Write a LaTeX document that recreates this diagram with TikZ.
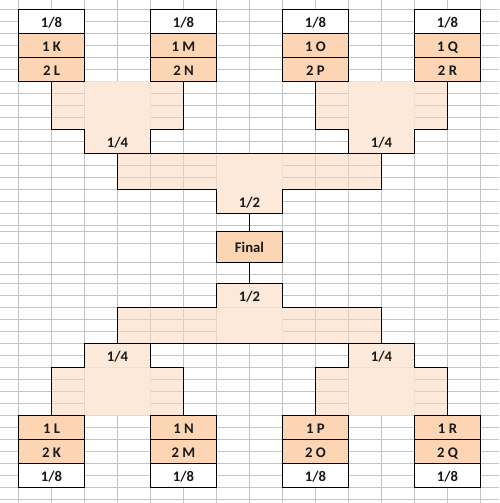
\documentclass[tikz,border=0pt]{standalone}
\usepackage{fontspec}
\setmainfont{Carlito}
\usetikzlibrary{positioning,backgrounds}
\definecolor{bkTeam}  {HTML}{FCD5B4}
\definecolor{bkPale}  {HTML}{FDE9D9}
\definecolor{bkGrid}  {HTML}{C4C4C4}
\definecolor{bkGridIn}{HTML}{DCCDC2}
\definecolor{bkInk}   {HTML}{1A1A1A}
\newcommand{\sheetgrid}[1]{%
  \foreach \gx in {18.5,51.5,...,480.5} \draw[#1] (\gx,0) -- (\gx,503);
  \foreach \gy in {9.3,21.3,...,225.3} \draw[#1] (0,\gy) -- (499,\gy);
  \foreach \gy in {231,243.3,262.3,274.3} \draw[#1] (0,\gy) -- (499,\gy);
  \foreach \gy in {283.3,295.3,...,499.3} \draw[#1] (0,\gy) -- (499,\gy);
}
\tikzset{
  cell/.style={minimum width=66pt,minimum height=24pt,inner sep=0pt,outer sep=0pt,
               text height=12pt,text depth=0pt,text=bkInk,
               font=\fontsize{14.7}{16}\selectfont\bfseries},
  seed/.style={cell,draw,line width=1pt,fill=white},
  team/.style={seed,fill=bkTeam},
  stage/.style={cell,fill=bkPale},
  rim/.style={line width=1pt,black},
}

\begin{document}
\begin{tikzpicture}[x=1pt,y=-1pt]
  \useasboundingbox (0,0) rectangle (499,503);

  \node[seed] (t1s) at (51.5,21.3) {1/8};
  \node[team,below=0pt of t1s] (t1a) {1 K};
  \node[team,below=0pt of t1a] (t1b) {2 L};
  \node[seed] (t2s) at (183.5,21.3) {1/8};
  \node[team,below=0pt of t2s] (t2a) {1 M};
  \node[team,below=0pt of t2a] (t2b) {2 N};
  \node[seed] (t3s) at (315.5,21.3) {1/8};
  \node[team,below=0pt of t3s] (t3a) {1 O};
  \node[team,below=0pt of t3a] (t3b) {2 P};
  \node[seed] (t4s) at (447.5,21.3) {1/8};
  \node[team,below=0pt of t4s] (t4a) {1 Q};
  \node[team,below=0pt of t4a] (t4b) {2 R};

  \node[stage] (q1) at (117.5,141.3) {1/4};
  \node[stage] (q2) at (381.5,141.3) {1/4};
  \node[stage] (h1) at (249.5,201.3) {1/2};
  \node[team,minimum height=31.3pt] (fin) at (249.5,246.65) {Final};
  \node[stage] (h2) at (249.5,295.3) {1/2};
  \node[stage] (q3) at (117.5,355.3) {1/4};
  \node[stage] (q4) at (381.5,355.3) {1/4};

  \node[team] (b1a) at (51.5,427.3) {1 L};
  \node[team,below=0pt of b1a] (b1b) {2 K};
  \node[seed,below=0pt of b1b] (b1s) {1/8};
  \node[team] (b2a) at (183.5,427.3) {1 N};
  \node[team,below=0pt of b2a] (b2b) {2 M};
  \node[seed,below=0pt of b2b] (b2s) {1/8};
  \node[team] (b3a) at (315.5,427.3) {1 P};
  \node[team,below=0pt of b3a] (b3b) {2 O};
  \node[seed,below=0pt of b3b] (b3s) {1/8};
  \node[team] (b4a) at (447.5,427.3) {1 R};
  \node[team,below=0pt of b4a] (b4b) {2 Q};
  \node[seed,below=0pt of b4b] (b4s) {1/8};

  \begin{scope}[on background layer]
    \fill[white] (0,0) rectangle (499,503);
    \sheetgrid{bkGrid,line width=0.8pt}
    \fill[bkPale] (t1b.south) rectangle (t2b.south |- q1.north)
                  (t3b.south) rectangle (t4b.south |- q2.north)
                  (q1.south) rectangle (q2.south |- h1.north)
                  (h2.south -| q3.north) rectangle (q4.north)
                  (b1a.north) rectangle (b2a.north |- q3.south)
                  (b3a.north) rectangle (b4a.north |- q4.south);
    \begin{scope}
      \clip (t1b.south) rectangle (t2b.south |- q1.north)
            (t3b.south) rectangle (t4b.south |- q2.north)
            (q1.south) rectangle (q2.south |- h1.north)
            (h2.south -| q3.north) rectangle (q4.north)
            (b1a.north) rectangle (b2a.north |- q3.south)
            (b3a.north) rectangle (b4a.north |- q4.south);
      \sheetgrid{bkGridIn,line width=0.8pt}
    \end{scope}
    \fill[bkPale] (t1b.south east) rectangle (q1.north east)
                  (t3b.south east) rectangle (q2.north east)
                  (q1.south -| h1.west) rectangle (h1.north east)
                  (q3.north -| h2.west) rectangle (h2.south east)
                  (b1a.north east) rectangle (q3.south east)
                  (b3a.north east) rectangle (q4.south east);
  \end{scope}

  \draw[rim] (t1b.south) |- (q1.north west) -- (q1.south west) -- (q1.south east) -- (q1.north east) -| (t2b.south);
  \draw[rim] (t3b.south) |- (q2.north west) -- (q2.south west) -- (q2.south east) -- (q2.north east) -| (t4b.south);
  \draw[rim] (q1.south) -- (q2.south) |- (h1.north east) -- (h1.south east) -- (h1.south west) -- (h1.north west) -| (q1.south) -- cycle;
  \draw[rim] (q3.north) -- (q4.north) |- (h2.south east) -- (h2.north east) -- (h2.north west) -- (h2.south west) -| (q3.north) -- cycle;
  \draw[rim] (b1a.north) |- (q3.south west) -- (q3.north west) -- (q3.north east) -- (q3.south east) -| (b2a.north);
  \draw[rim] (b3a.north) |- (q4.south west) -- (q4.north west) -- (q4.north east) -- (q4.south east) -| (b4a.north);

  \draw[rim] (h1) -- (fin);
  \draw[rim] (fin) -- (h2);
\end{tikzpicture}
\end{document}
